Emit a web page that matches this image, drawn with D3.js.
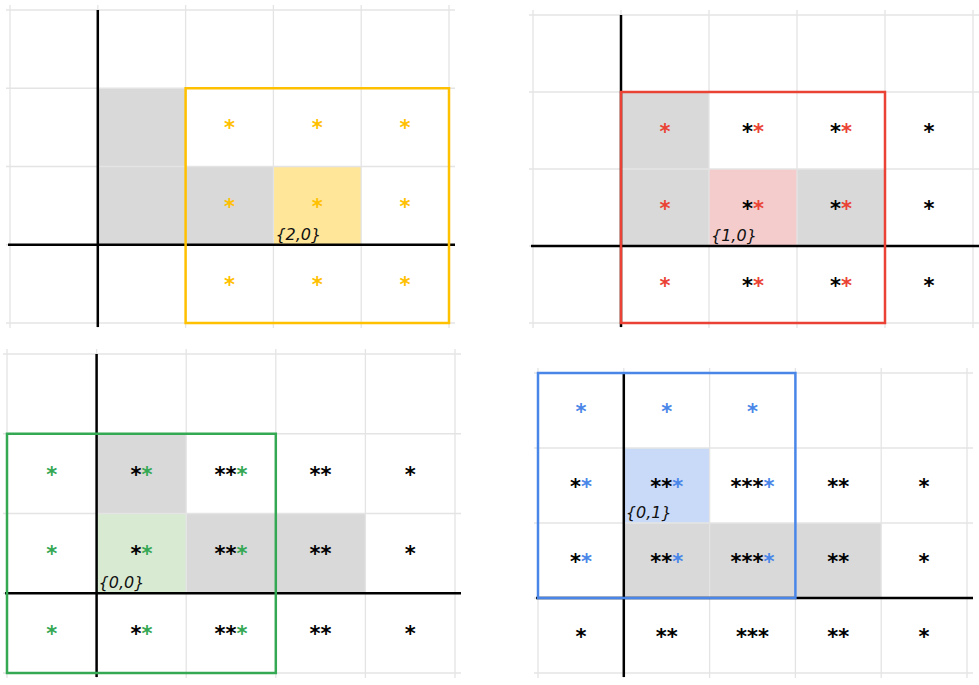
<!DOCTYPE html>
<html>
<head>
<meta charset="utf-8">
<script src="https://cdn.jsdelivr.net/npm/d3@7"></script>
<style>
  body { margin: 0; background: #fff; }
  svg { display: block; }
</style>
</head>
<body>
<div id="chart"></div>
<script>
// grid coordinates shown in each panel
var cols = [-1, 0, 1, 2, 3];
var rows = [2, 1, 0, -1];

// one entry per panel
var labels = ["{2,0}", "{1,0}", "{0,0}", "{0,1}"];
var highlightCells = [[2, 0], [1, 0], [0, 0], [0, 1]];
var greyCells = [
  [[0, 1], [0, 0], [1, 0]],
  [[0, 1], [0, 0], [2, 0]],
  [[0, 1], [1, 0], [2, 0]],
  [[0, 0], [1, 0], [2, 0]]
];
var kernelCols = [[1, 2, 3], [0, 1, 2], [-1, 0, 1], [-1, 0, 1]];
var kernelRows = [[1, 0, -1], [1, 0, -1], [1, 0, -1], [2, 1, 0]];
// black stars per column (cols -1..3), on the rows in blackRows
var blackCounts = [
  [0, 0, 0, 0, 0],
  [0, 0, 1, 1, 1],
  [0, 1, 2, 2, 1],
  [1, 2, 3, 2, 1]
];
var blackRows = [1, 0, -1];

// styling / layout
var strokeColors = ["#ffc000", "#ea4335", "#34a853", "#4a86e8"];
var fillColors = ["#ffe699", "#f4cccc", "#d9ead3", "#c9daf8"];
var boxes = [
  {left: 10, right: 449, top: 10, bottom: 323},
  {left: 533, right: 973, top: 15, bottom: 323},
  {left: 7, right: 455, top: 354, bottom: 673},
  {left: 538, right: 967, top: 373, bottom: 673}
];

var svg = d3.select("#chart").append("svg")
    .attr("width", 979)
    .attr("height", 685);

boxes.forEach(function(box, i) {
  var x = d3.scaleLinear().domain([-1, 4]).range([box.left, box.right]);
  var y = d3.scaleLinear().domain([3, -1]).range([box.top, box.bottom]);
  var g = svg.append("g");

  var cells = [];
  rows.forEach(function(r) {
    cols.forEach(function(c, ci) {
      var black = blackRows.indexOf(r) >= 0 ? blackCounts[i][ci] : 0;
      var colored = kernelCols[i].indexOf(c) >= 0 && kernelRows[i].indexOf(r) >= 0;
      cells.push({c: c, r: r, black: black, colored: colored});
    });
  });

  // filled cells
  g.selectAll(".grey")
    .data(greyCells[i])
    .enter().append("rect")
      .attr("x", function(d) { return x(d[0]); })
      .attr("y", function(d) { return y(d[1] + 1); })
      .attr("width", function(d) { return x(d[0] + 1) - x(d[0]); })
      .attr("height", function(d) { return y(d[1]) - y(d[1] + 1); })
      .attr("fill", "#d9d9d9");

  var h = highlightCells[i];
  g.append("rect")
      .attr("x", x(h[0]))
      .attr("y", y(h[1] + 1))
      .attr("width", x(h[0] + 1) - x(h[0]))
      .attr("height", y(h[1]) - y(h[1] + 1))
      .attr("fill", fillColors[i]);

  // grid
  g.selectAll(".vgrid")
    .data(d3.range(-1, 5))
    .enter().append("line")
      .attr("x1", function(d) { return x(d); })
      .attr("x2", function(d) { return x(d); })
      .attr("y1", box.top - 5)
      .attr("y2", box.bottom + 5)
      .attr("stroke", "#e4e4e4")
      .attr("stroke-width", 1.3);

  g.selectAll(".hgrid")
    .data(d3.range(-1, 4))
    .enter().append("line")
      .attr("x1", box.left - 4)
      .attr("x2", box.right + 6)
      .attr("y1", function(d) { return y(d); })
      .attr("y2", function(d) { return y(d); })
      .attr("stroke", "#e4e4e4")
      .attr("stroke-width", 1.3);

  // axes
  g.append("line")
      .attr("x1", box.left - 2).attr("x2", box.right + 6)
      .attr("y1", y(0)).attr("y2", y(0))
      .attr("stroke", "#000").attr("stroke-width", 2.5);
  g.append("line")
      .attr("x1", x(0)).attr("x2", x(0))
      .attr("y1", y(3)).attr("y2", box.bottom + 4)
      .attr("stroke", "#000").attr("stroke-width", 2.5);

  // kernel outline
  var kc = d3.extent(kernelCols[i]), kr = d3.extent(kernelRows[i]);
  g.append("rect")
      .attr("x", x(kc[0]))
      .attr("y", y(kr[1] + 1))
      .attr("width", x(kc[1] + 1) - x(kc[0]))
      .attr("height", y(kr[0]) - y(kr[1] + 1))
      .attr("fill", "none")
      .attr("stroke", strokeColors[i])
      .attr("stroke-width", 2.5);

  // stars
  var txt = g.selectAll(".stars")
    .data(cells.filter(function(d) { return d.black > 0 || d.colored; }))
    .enter().append("text")
      .attr("x", function(d) { return (x(d.c) + x(d.c + 1)) / 2; })
      .attr("y", function(d) { return (y(d.r) + y(d.r + 1)) / 2 + 8; })
      .attr("text-anchor", "middle")
      .style("font-family", "DejaVu Sans")
      .style("font-weight", "bold")
      .style("font-size", "21px");

  txt.append("tspan")
      .attr("fill", "#000")
      .text(function(d) { return "*".repeat(d.black); });
  txt.append("tspan")
      .attr("fill", strokeColors[i])
      .text(function(d) { return d.colored ? "*" : ""; });

  g.append("text")
      .attr("x", x(h[0]) + 2)
      .attr("y", y(h[1]) - 5)
      .style("font-family", "DejaVu Sans")
      .style("font-style", "italic")
      .style("font-size", "16px")
      .attr("fill", "#111")
      .text(labels[i]);
});
</script>
</body>
</html>
